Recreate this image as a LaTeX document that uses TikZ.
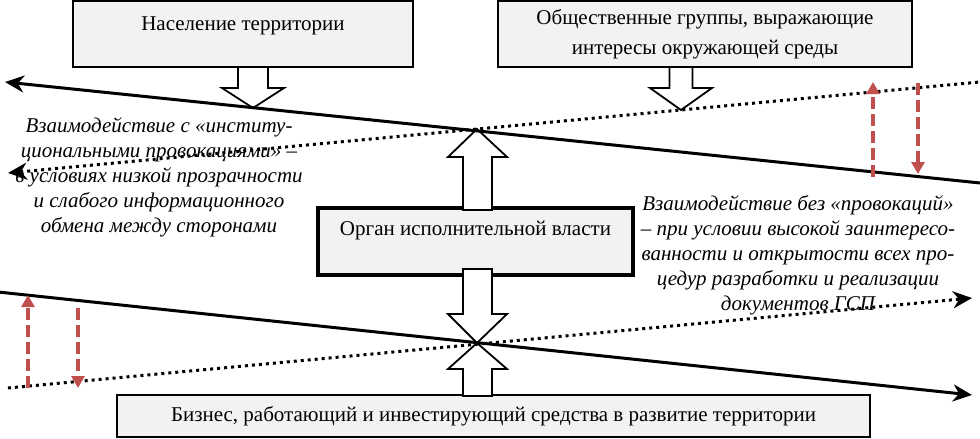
\documentclass[tikz,border=0pt]{standalone}
\usepackage{fontspec}
\setmainfont{Liberation Serif}
\usetikzlibrary{arrows.meta}
\definecolor{boxgray}{RGB}{242,242,242}
\definecolor{arrowred}{RGB}{192,80,77}

\begin{document}
\begin{tikzpicture}[
		x=0.5pt, y=-0.5pt,
		every node/.style={font=\fontsize{10.5}{12.5}\selectfont},
		box/.style={draw, line width=1.2pt, fill=boxgray, inner sep=0pt, text height=7.5pt, text depth=2.5pt},
		hollow/.style={draw, fill=white, line width=0.9pt, line join=miter},
		solidline/.style={line width=1.5pt, -{Stealth[length=9.5pt, width=8.5pt, inset=3pt]}},
		dotline/.style={solidline, dash pattern=on 1.5pt off 2pt},
		redarrow/.style={arrowred, line width=1.7pt, dash pattern=on 6pt off 2.5pt, -{Triangle[length=6pt, width=6.5pt]}},
		note/.style={align=center, font=\fontsize{10.5}{12.5}\selectfont\itshape}
		]
		\useasboundingbox (0,0) rectangle (980,439);
		% Participants
		\node[box, minimum width=170pt, minimum height=33pt, text depth=11.5pt] at (243,34) (pop) {Население территории};
		\node[box, minimum width=207pt, minimum height=33pt, align=center, text height=, text depth=, font=\fontsize{10.5}{15}\selectfont] at (705,34) (groups) {Общественные группы, выражающие\\интересы окружающей среды};
		\node[box, line width=1.8pt, minimum width=157.5pt, minimum height=33.5pt, text depth=14pt] at (475.5,241.5) (organ) {Орган исполнительной власти};
		\node[box, minimum width=376.5pt, minimum height=21pt] at (493.5,416) (business) {Бизнес, работающий и инвестирующий средства в развитие территории};
		
		% Crossing points and line ends
		\coordinate (x1) at (477,129);
		\coordinate (x2) at (477,343);
		\coordinate (t1) at (253,108);
		\coordinate (t2) at (681,110);
		\coordinate (s1w) at (5,82);
		\coordinate (s1e) at (985,183.5);
		\coordinate (d1w) at (8,173);
		\coordinate (d1e) at (985,81.5);
		\coordinate (s2w) at (-2,292);
		\coordinate (s2e) at (972,395);
		\coordinate (d2w) at (8,388);
		\coordinate (d2e) at (972,298);
		
		% Hollow arrows
		\draw[hollow] (t1) -- ++(31,-20) -- ++(-16,0) -- ++(0,-21) -- ++(-30,0) -- ++(0,21) -- ++(-16,0) -- cycle;
		\draw[hollow] (t2) -- ++(31,-22) -- ++(-19.5,0) -- ++(0,-21) -- ++(-23,0) -- ++(0,21) -- ++(-19.5,0) -- cycle;
		\draw[hollow] (x1) -- ++(30,28) -- ++(-15,0) -- ++(0,53) -- ++(-29,0) -- ++(0,-53) -- ++(-15,0) -- cycle;
		\draw[hollow] (x2) -- ++(30,-29) -- ++(-15,0) -- ++(0,-45) -- ++(-29,0) -- ++(0,45) -- ++(-15,0) -- cycle;
		\draw[hollow] (x2) -- ++(30,26) -- ++(-15,0) -- ++(0,27) -- ++(-29,0) -- ++(0,-27) -- ++(-15,0) -- cycle;
		
		% Interaction lines
		\draw[solidline] (s1e) -- (s1w);
		\draw[dotline] (d1e) -- (d1w);
		\draw[solidline] (s2w) -- (s2e);
		\draw[dotline] (d2w) -- (d2e);
		
		% Red feedback arrows
		\coordinate (r1a) at (873,177);
		\coordinate (r1b) at (873,82);
		\coordinate (r2a) at (918,83);
		\coordinate (r2b) at (918,174);
		\coordinate (r3a) at (28,388);
		\coordinate (r3b) at (28,295);
		\coordinate (r4a) at (78,308);
		\coordinate (r4b) at (78,388);
		\draw[redarrow] (r1a) -- (r1b);
		\draw[redarrow] (r2a) -- (r2b);
		\draw[redarrow] (r3a) -- (r3b);
		\draw[redarrow] (r4a) -- (r4b);
		
		% Notes
		\node[note] at (159,177) (lefttext) {Взаимодействие с «институ-\\циональными провокациями» –\\в условиях низкой прозрачности\\и слабого информационного\\обмена между сторонами};
		\node[note] at (798,255) (righttext) {Взаимодействие без «провокаций»\\– при условии высокой заинтересо-\\ванности и открытости всех про-\\цедур разработки и реализации\\документов ГСП};
	\end{tikzpicture}
\end{document}
